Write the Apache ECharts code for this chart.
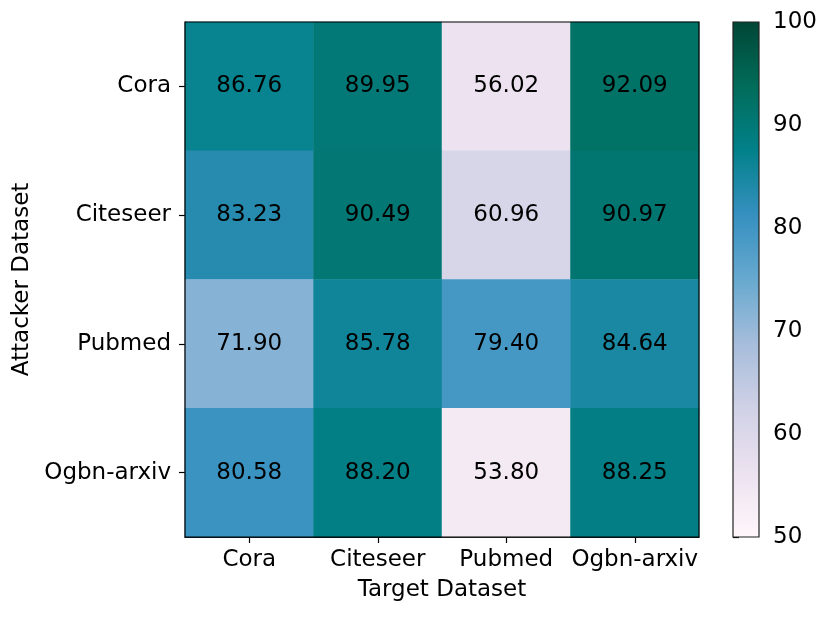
<!DOCTYPE html>
<html lang="en">
<head>
  <meta charset="UTF-8">
  <script src="https://cdn.jsdelivr.net/npm/echarts@6/dist/echarts.min.js"></script>
  <title>attack heatmap</title>
</head>
<style>
  html, body { margin: 0; background: #fff; }
  #chart { width: 831px; height: 617px; }
</style>
<body>
  <div id="chart"></div>
  <script type="text/javascript">
    // 数据
    var targets = ['Cora', 'Citeseer', 'Pubmed', 'Ogbn-arxiv'];
    var attackers = ['Cora', 'Citeseer', 'Pubmed', 'Ogbn-arxiv'];
    var rowCora = [86.76, 89.95, 56.02, 92.09];
    var rowCiteseer = [83.23, 90.49, 60.96, 90.97];
    var rowPubmed = [71.90, 85.78, 79.40, 84.64];
    var rowOgbn = [80.58, 88.20, 53.80, 88.25];
    var barTicks = [50, 60, 70, 80, 90, 100];

    // PuBuGn 色带
    var pubugn = ['#fff7fb', '#ece2f0', '#d0d1e6', '#a6bddb', '#67a9cf', '#3690c0', '#02818a', '#016c59', '#014636'];

    var rows = [rowCora, rowCiteseer, rowPubmed, rowOgbn];
    var cells = [];
    rows.forEach(function (row, r) {
      row.forEach(function (v, c) {
        cells.push([c, r, v]);
      });
    });

    var font = 'DejaVu Sans';
    var fs = 23;
    var gl = 185, gt = 22, gw = 514, gh = 515;
    var bl = 733, bw = 26;

    var chart = echarts.init(document.getElementById('chart'));
    var option = {
      backgroundColor: '#fff',
      textStyle: { fontFamily: font },
      animation: false,
      grid: [
        { left: gl, top: gt, width: gw, height: gh },
        { left: bl, top: gt, width: bw, height: gh }
      ],
      visualMap: {
        show: false,
        min: barTicks[0],
        max: barTicks[barTicks.length - 1],
        dimension: 2,
        seriesIndex: 0,
        inRange: { color: pubugn }
      },
      graphic: [{
        type: 'rect',
        z: 1,
        shape: { x: bl, y: gt, width: bw, height: gh },
        style: {
          fill: new echarts.graphic.LinearGradient(0, 1, 0, 0, pubugn.map(function (c, i) {
            return { offset: i / (pubugn.length - 1), color: c };
          })),
          stroke: '#222',
          lineWidth: 1.2
        }
      }, {
        type: 'rect',
        z: 100,
        shape: { x: gl, y: gt, width: gw, height: gh },
        style: { fill: 'none', stroke: '#000', lineWidth: 1.2 }
      }],
      xAxis: [{
        type: 'category',
        gridIndex: 0,
        data: targets,
        name: 'Target Dataset',
        nameLocation: 'middle',
        nameGap: 42,
        nameTextStyle: { color: '#000', fontSize: fs, fontFamily: font },
        axisLine: { show: true, lineStyle: { color: '#000', width: 1.2 } },
        axisTick: { show: true, alignWithLabel: true, length: 6, lineStyle: { color: '#000', width: 1.2 } },
        axisLabel: { color: '#000', fontSize: fs, fontFamily: font, margin: 12, interval: 0 },
        splitLine: { show: false }
      }, {
        type: 'value',
        gridIndex: 1,
        show: false
      }],
      yAxis: [{
        type: 'category',
        gridIndex: 0,
        data: attackers,
        inverse: true,
        name: 'Attacker Dataset',
        nameLocation: 'middle',
        nameGap: 148,
        nameTextStyle: { color: '#000', fontSize: fs, fontFamily: font },
        axisLine: { show: true, lineStyle: { color: '#000', width: 1.2 } },
        axisTick: { show: true, alignWithLabel: true, length: 6, lineStyle: { color: '#000', width: 1.2 } },
        axisLabel: { color: '#000', fontSize: fs, fontFamily: font, margin: 14, interval: 0 },
        splitLine: { show: false }
      }, {
        type: 'value',
        gridIndex: 1,
        position: 'right',
        min: barTicks[0],
        max: barTicks[barTicks.length - 1],
        interval: 10,
        axisLine: { show: false },
        axisTick: { show: true, length: 6, lineStyle: { color: '#000', width: 1.2 } },
        axisLabel: { color: '#000', fontSize: fs, fontFamily: font, margin: 14 },
        splitLine: { show: false }
      }],
      series: [{
        type: 'heatmap',
        xAxisIndex: 0,
        yAxisIndex: 0,
        data: cells,
        label: {
          show: true,
          color: '#000',
          fontSize: fs,
          fontFamily: font,
          formatter: function (p) { return p.value[2].toFixed(2); }
        },
        itemStyle: { borderWidth: 0 },
        emphasis: { disabled: true }
      }]
    };
    chart.setOption(option);
  </script>
</body>
</html>
